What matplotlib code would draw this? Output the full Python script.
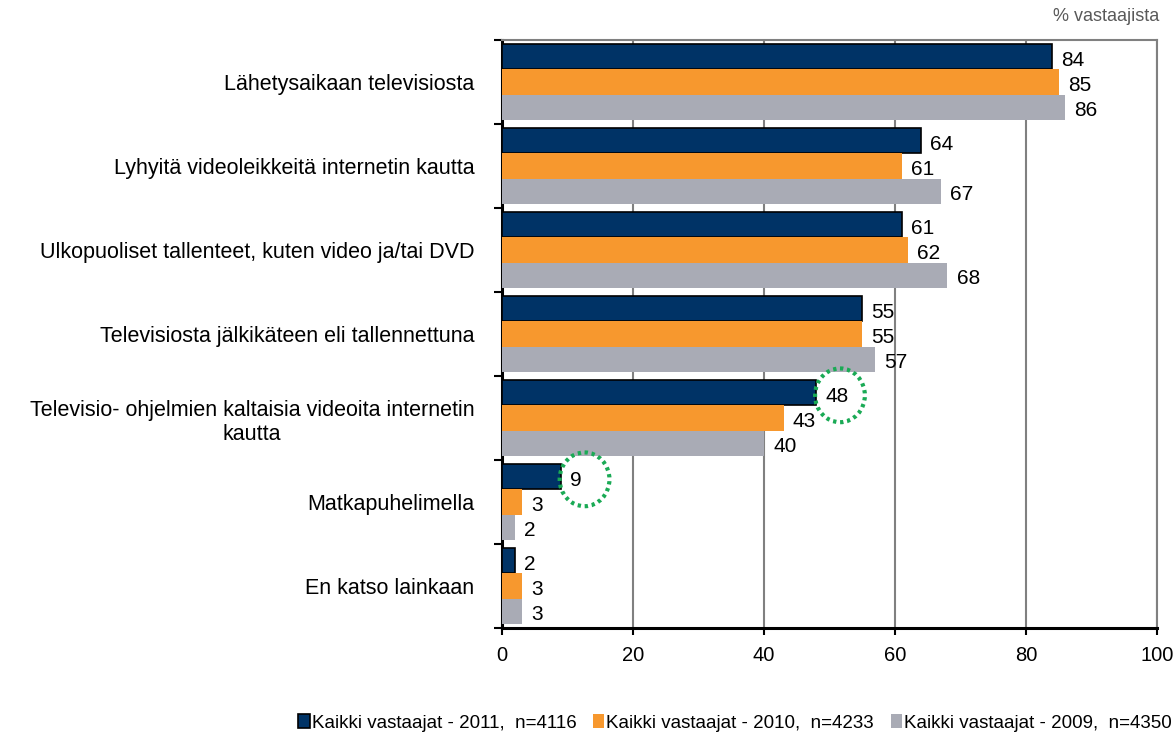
import numpy as np
import matplotlib.pyplot as plt
from matplotlib.patches import Ellipse

categories = [
    "Lähetysaikaan televisiosta",
    "Lyhyitä videoleikkeitä internetin kautta",
    "Ulkopuoliset tallenteet, kuten video ja/tai DVD",
    "Televisiosta jälkikäteen eli tallennettuna",
    "Televisio- ohjelmien kaltaisia videoita internetin\nkautta",
    "Matkapuhelimella",
    "En katso lainkaan",
]
series_labels = [
    "Kaikki vastaajat - 2011,  n=4116",
    "Kaikki vastaajat - 2010,  n=4233",
    "Kaikki vastaajat - 2009,  n=4350",
]
v2011 = [84, 64, 61, 55, 48, 9, 2]
v2010 = [85, 61, 62, 55, 43, 3, 3]
v2009 = [86, 67, 68, 57, 40, 2, 3]
highlighted = [(4, 48), (5, 9)]  # (category index, value) circled in 2011 series

colors = ["#003366", "#F7982E", "#A9ABB5"]
edges = ["black", "none", "none"]

plt.rcParams['font.family'] = ['Liberation Sans', 'DejaVu Sans']

fig = plt.figure(figsize=(11.76, 7.36), dpi=100)
ax = fig.add_axes([0.4269, 0.1467, 0.5569, 0.799])

n = len(categories)
bar_h = 0.30
y = np.arange(n)
offsets = [-bar_h, 0, bar_h]
for vals, off, c, ec, lab in zip([v2011, v2010, v2009], offsets, colors, edges, series_labels):
    ax.barh(y + off, vals, height=bar_h, color=c, edgecolor=ec,
            linewidth=1.2 if ec != "none" else 0, label=lab, zorder=3)
    for yi, v in zip(y, vals):
        ax.text(v + 1.4, yi + off + 0.04, str(v), va="center", ha="left",
                fontsize=15, zorder=5)

for ci, v in highlighted:
    ax.add_patch(Ellipse((v + 3.6, ci - bar_h + 0.03), width=7.6, height=0.64,
                         fill=False, edgecolor="#1AAA55", linestyle=(0, (0.8, 0.9)),
                         linewidth=3, zorder=6))

ax.set_xlim(0, 100)
ax.set_ylim(n - 0.5, -0.5)
ax.set_xticks([0, 20, 40, 60, 80, 100])
ax.tick_params(axis="x", labelsize=14.5, length=5, width=1.5, direction="out", pad=8)

ax.set_yticks(np.arange(n + 1) - 0.5, minor=False)
ax.set_yticklabels([])
ax.set_yticks(y, minor=True)
ax.set_yticklabels(categories, minor=True, fontsize=15.5)
ax.tick_params(axis="y", which="major", length=6, width=1.5)
ax.tick_params(axis="y", which="minor", length=0, pad=20)
for t in ax.get_yticklabels(minor=True):
    t.set_horizontalalignment("right")
    t.set_multialignment("center")

ax.grid(axis="x", color="#808080", linewidth=1.5, zorder=0)
for s in ["left", "bottom"]:
    ax.spines[s].set_linewidth(2.2)
    ax.spines[s].set_color("black")
for s in ["top", "right"]:
    ax.spines[s].set_linewidth(1.5)
    ax.spines[s].set_color("#808080")

fig.text(0.986, 0.977, "% vastaajista", ha="right", va="center",
         fontsize=13, color="#595959")

fig.legend(loc="lower center", bbox_to_anchor=(0.625, -0.017), ncol=3,
           frameon=False, fontsize=13.5, handlelength=0.6, handleheight=0.8,
           handletextpad=0.1, columnspacing=0.9)

fig.savefig("out.png", dpi=100)
